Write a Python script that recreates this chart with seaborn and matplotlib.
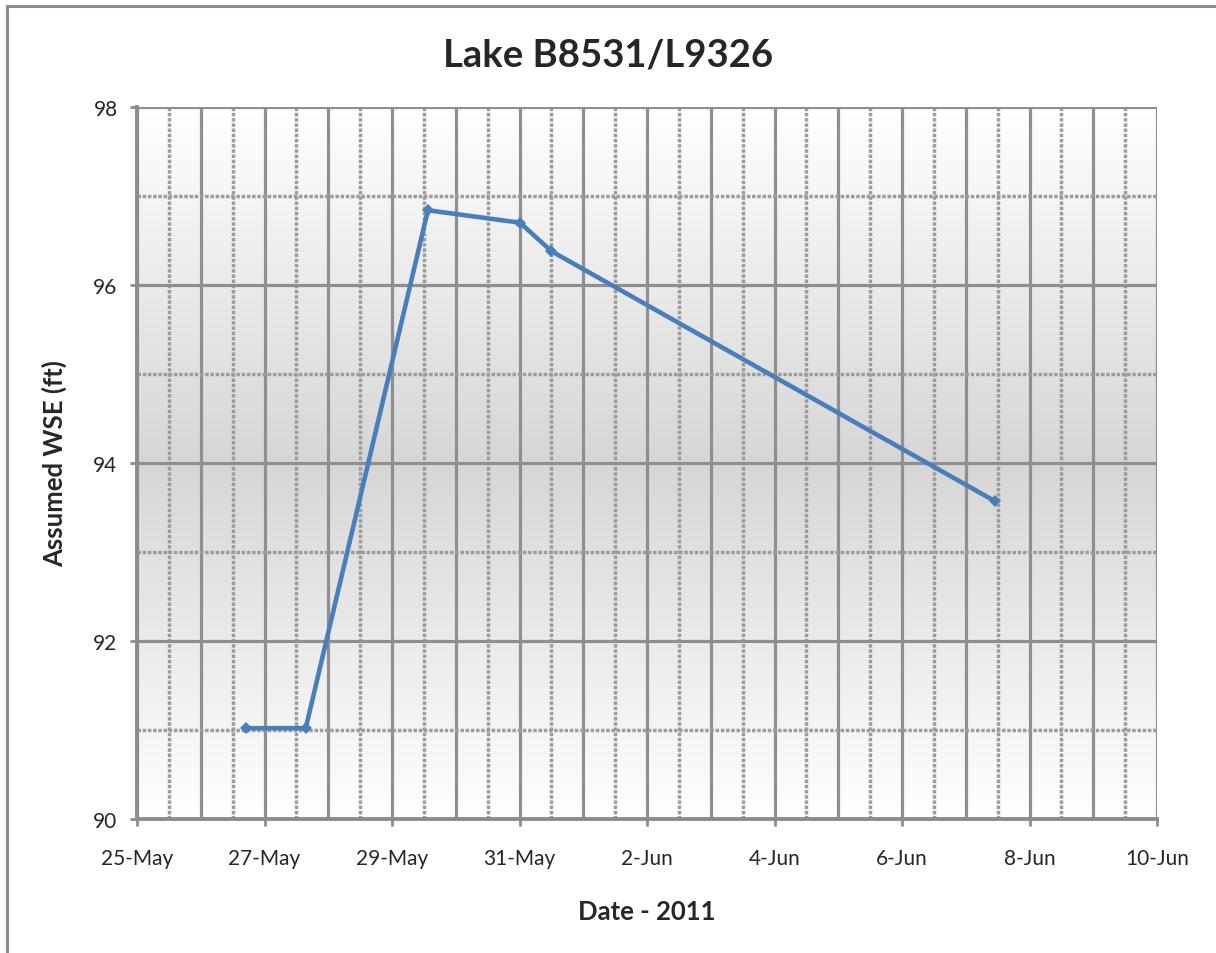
import numpy as np
import pandas as pd
import seaborn as sns
import matplotlib.pyplot as plt
import matplotlib.dates as mdates
from matplotlib.colors import LinearSegmentedColormap
from matplotlib.patches import Rectangle
from matplotlib.ticker import MultipleLocator, FixedLocator, FuncFormatter

# readings taken off the chart
dates = ["2011-05-26 17:00", "2011-05-27 15:30", "2011-05-29 13:30",
         "2011-05-31 00:10", "2011-05-31 12:00", "2011-06-07 11:00"]
wse = [91.02, 91.02, 96.84, 96.70, 96.38, 93.57]

df = pd.DataFrame({"date": pd.to_datetime(dates), "wse": wse})

start = pd.Timestamp("2011-05-25")
end = pd.Timestamp("2011-06-10")

sns.set_style("white")
plt.rcParams['font.family'] = ['Lato', 'DejaVu Sans']

fig = plt.figure(figsize=(12.16, 9.54), dpi=100)
ax = fig.add_axes([0.1127, 0.1405, 0.8388, 0.7463])

# outer chart frame (only left/top visible in the crop)
fig.patches.append(Rectangle((7 / 1216, -0.05), 1.2, 1 - 7 / 954 + 0.05,
                             transform=fig.transFigure, fill=False,
                             edgecolor="#8c8c8c", linewidth=2.2))

# gradient plot area: white -> grey -> white
cmap = LinearSegmentedColormap.from_list("bg", ["#ffffff", "#d6d6d6", "#ffffff"])
grad = np.linspace(0, 1, 256).reshape(-1, 1)
ax.imshow(grad, cmap=cmap, aspect="auto", extent=[0, 1, 0, 1],
          transform=ax.transAxes, zorder=0)

# grid: solid every day / every 2 ft, dotted every half day / odd ft
grid_solid = dict(color="#8f8f8f", linewidth=2.3, zorder=1)
grid_dot = dict(color="#9c9c9c", linewidth=2.5, linestyle=(0, (1, 0.5)), zorder=1)
for d in pd.date_range(start, end, freq="D"):
    ax.axvline(d, **grid_solid)
for d in pd.date_range(start + pd.Timedelta(hours=12), end, freq="D"):
    ax.axvline(d, **grid_dot)
for y in range(92, 99, 2):
    ax.axhline(y, **grid_solid)
for y in range(91, 98, 2):
    ax.axhline(y, **grid_dot)

sns.lineplot(data=df, x="date", y="wse", ax=ax, color="#4a7ebb",
             linewidth=3.3, marker="D", markersize=6.5, markeredgewidth=0, zorder=3)

ax.set_xlim(start, end)
ax.set_ylim(90, 98)

label_days = pd.date_range(start, end, freq="2D")
ax.xaxis.set_major_locator(FixedLocator(mdates.date2num(label_days)))
ax.xaxis.set_major_formatter(FuncFormatter(
    lambda x, pos: f"{mdates.num2date(x).day}-{mdates.num2date(x).strftime('%b')}"))
ax.yaxis.set_major_locator(MultipleLocator(2))
ax.grid(False)

for s in ["top", "right"]:
    ax.spines[s].set_visible(False)
for s in ["left", "bottom"]:
    ax.spines[s].set_color("#8c8c8c")
    ax.spines[s].set_linewidth(2.8)
    ax.spines[s].set_zorder(2)

ax.tick_params(axis="x", length=5, width=2, color="#8c8c8c",
               labelsize=15, pad=16, direction="out", bottom=True)
ax.tick_params(axis="y", length=5, width=2, color="#8c8c8c",
               labelsize=15, pad=9, direction="out", left=True)

ax.set_xlabel("Date - 2011", fontsize=18.5, fontweight="bold")
ax.set_ylabel("Assumed WSE (ft)", fontsize=18.5, fontweight="bold")
ax.xaxis.set_label_coords(0.5, -0.112)
ax.yaxis.set_label_coords(-0.069, 0.5)

fig.suptitle("Lake B8531/L9326", fontsize=27.5, fontweight="bold", y=0.942, va="center")

fig.savefig("out.png", dpi=100)
